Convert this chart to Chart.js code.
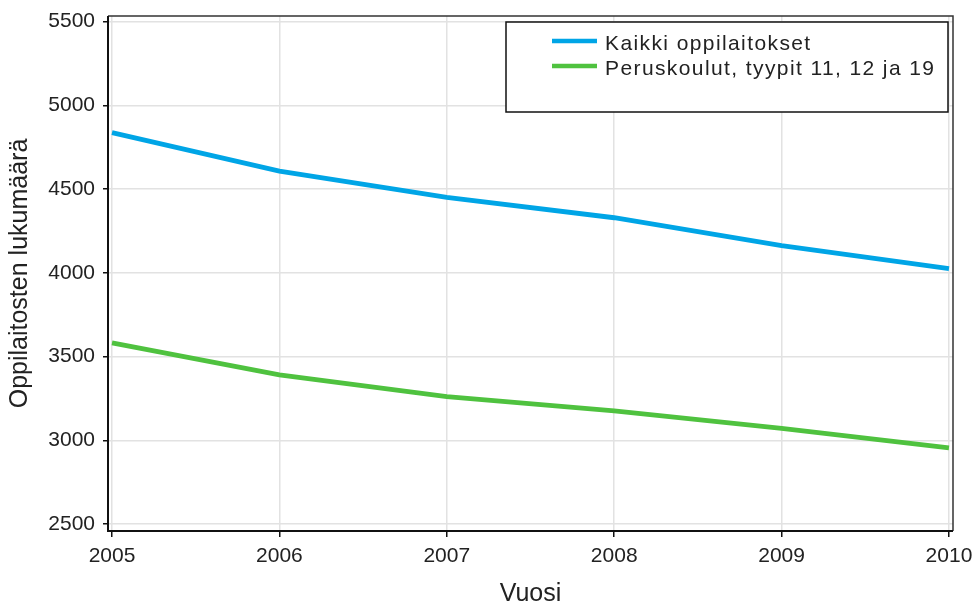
<!DOCTYPE html>
<html>
<head>
<meta charset="utf-8">
<script src="https://cdn.jsdelivr.net/npm/chart.js@4"></script>
<style>
html,body{margin:0;padding:0;background:#fff;}
#wrap{width:973px;height:603px;position:relative;}
</style>
</head>
<body>
<div id="wrap"><canvas id="c" width="973" height="603"></canvas></div>
<script>
const years = [2005, 2006, 2007, 2008, 2009, 2010];
const kaikki = [4837, 4608, 4451, 4329, 4162, 4025];
const peruskoulut = [3582, 3390, 3260, 3176, 3071, 2955];
const yTicks = [2500, 3000, 3500, 4000, 4500, 5000, 5500];
const seriesLabels = ['Kaikki oppilaitokset', 'Peruskoulut, tyypit 11, 12 ja 19'];
const seriesColors = ['#00a5e6', '#4fc23f'];

const FONT = "'Liberation Sans', Arial, sans-serif";

const legendBox = {
  id: 'legendBox',
  afterDraw(chart) {
    const ctx = chart.ctx;
    ctx.save();
    ctx.fillStyle = '#fff';
    ctx.fillRect(506, 22, 442, 90);
    ctx.strokeStyle = '#111';
    ctx.lineWidth = 1.5;
    ctx.strokeRect(506, 22, 442, 90);
    chart.data.datasets.forEach((ds, i) => {
      const y = 41 + i * 25;
      ctx.strokeStyle = ds.borderColor;
      ctx.lineWidth = 4.5;
      ctx.beginPath();
      ctx.moveTo(552, y);
      ctx.lineTo(597, y);
      ctx.stroke();
      ctx.fillStyle = '#222';
      ctx.font = '21px ' + FONT;
      if ('letterSpacing' in ctx) ctx.letterSpacing = '1.4px';
      ctx.textBaseline = 'alphabetic';
      ctx.textAlign = 'left';
      ctx.fillText(ds.label, 605, y + 8.5);
      if ('letterSpacing' in ctx) ctx.letterSpacing = '0px';
    });
    ctx.restore();
  }
};

const frame = {
  id: 'frame',
  afterDatasetsDraw(chart) {
    const a = chart.chartArea;
    const ctx = chart.ctx;
    ctx.save();
    ctx.strokeStyle = '#333';
    ctx.lineWidth = 1.5;
    ctx.beginPath();
    ctx.moveTo(a.left, a.top);
    ctx.lineTo(a.right, a.top);
    ctx.lineTo(a.right, a.bottom);
    ctx.stroke();
    ctx.strokeStyle = '#111';
    ctx.lineWidth = 2;
    ctx.beginPath();
    ctx.moveTo(a.left, a.top);
    ctx.lineTo(a.left, a.bottom);
    ctx.lineTo(a.right, a.bottom);
    ctx.stroke();
    ctx.restore();
  }
};

function zeroPad(scale) {
  scale.paddingLeft = 0;
  scale.paddingRight = 0;
  scale.paddingTop = 0;
  scale.paddingBottom = 0;
}

new Chart(document.getElementById('c'), {
  type: 'line',
  data: {
    datasets: [
      { label: seriesLabels[0], data: years.map((y, i) => ({ x: y, y: kaikki[i] })), borderColor: seriesColors[0], backgroundColor: seriesColors[0], borderWidth: 4.8, pointRadius: 0, tension: 0 },
      { label: seriesLabels[1], data: years.map((y, i) => ({ x: y, y: peruskoulut[i] })), borderColor: seriesColors[1], backgroundColor: seriesColors[1], borderWidth: 4.8, pointRadius: 0, tension: 0 }
    ]
  },
  options: {
    responsive: false,
    animation: false,
    devicePixelRatio: 1,
    layout: { padding: { top: 16, right: 20, left: 0, bottom: 0 } },
    plugins: { legend: { display: false }, tooltip: { enabled: false } },
    scales: {
      x: {
        type: 'linear',
        min: 2004.976,
        max: 2010.024,
        afterBuildTicks(scale) { scale.ticks = years.map(v => ({ value: v })); },
        afterFit(scale) { scale.height = 72; zeroPad(scale); },
        grid: { color: '#e2e2e2', lineWidth: 1.5, tickColor: '#111', tickLength: 6, drawOnChartArea: true },
        border: { display: false },
        ticks: { color: '#222', font: { family: FONT, size: 21 }, padding: 7, maxRotation: 0, callback: v => String(v) },
        title: { display: true, text: 'Vuosi', color: '#222', font: { family: FONT, size: 25, lineHeight: 0.7 }, padding: { top: 0, bottom: 0 } }
      },
      y: {
        type: 'linear',
        min: 2458,
        max: 5534,
        afterBuildTicks(scale) { scale.ticks = yTicks.map(v => ({ value: v })); },
        afterFit(scale) { scale.width = 108; zeroPad(scale); },
        grid: { color: '#e2e2e2', lineWidth: 1.5, tickColor: '#111', tickLength: 5 },
        border: { display: false },
        ticks: { color: '#222', font: { family: FONT, size: 21 }, padding: 8, callback: v => String(v) },
        title: { display: true, text: 'Oppilaitosten lukumäärä', color: '#222', font: { family: FONT, size: 25, lineHeight: 1 }, padding: { top: 7.5, bottom: 0 } }
      }
    }
  },
  plugins: [frame, legendBox]
});
</script>
</body>
</html>
